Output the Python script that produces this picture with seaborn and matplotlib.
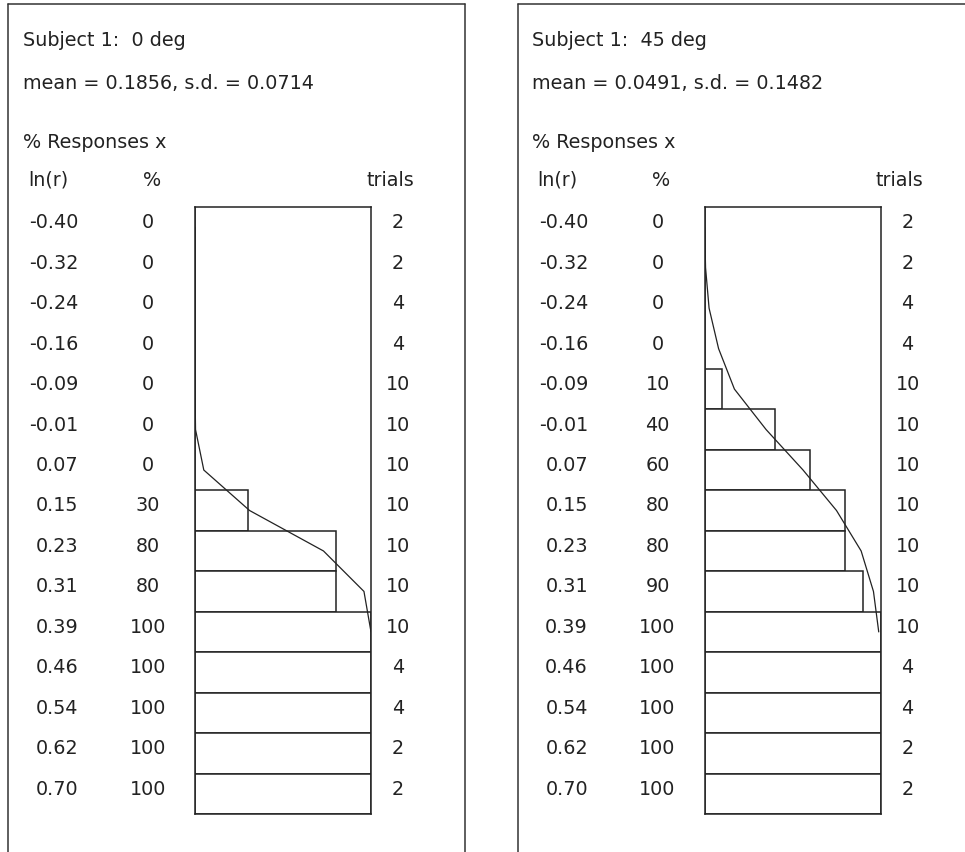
import numpy as np
import matplotlib.pyplot as plt
import seaborn as sns
from matplotlib.lines import Line2D
from matplotlib.transforms import blended_transform_factory

# rows of the response table
ln_r = ['-0.40', '-0.32', '-0.24', '-0.16', '-0.09', '-0.01', '0.07', '0.15',
        '0.23', '0.31', '0.39', '0.46', '0.54', '0.62', '0.70']
trials = [2, 2, 4, 4, 10, 10, 10, 10, 10, 10, 10, 4, 4, 2, 2]

pct_0deg = [0, 0, 0, 0, 0, 0, 0, 30, 80, 80, 100, 100, 100, 100, 100]
pct_45deg = [0, 0, 0, 0, 10, 40, 60, 80, 80, 90, 100, 100, 100, 100, 100]

# fitted curve (% at the row centres)
fit_0deg = [0, 0, 0, 0, 0, 0.3, 5, 31, 73, 96, 100]
fit_45deg = [0.1, 0.6, 2.6, 8, 17, 35, 56, 75, 89, 96, 99]

titles = ['Subject 1:  0 deg', 'Subject 1:  45 deg']
stats = ['mean = 0.1856, s.d. = 0.0714', 'mean = 0.0491, s.d. = 0.1482']

W, H = 965, 853
INK = '#222222'

sns.set_style('white')
plt.rcParams['font.family'] = ['DejaVu Sans']

fig = plt.figure(figsize=(W / 100, H / 100), dpi=100)


def fx(px):
    return px / W


def fy(py):
    return 1 - py / H


panels = [
    (0, titles[0], stats[0], pct_0deg, fit_0deg, 464.5),
    (509.5, titles[1], stats[1], pct_45deg, fit_45deg, 980),
]

fs = 13.8
for dx, title, stat, pct, fit, right in panels:
    # outer frame (runs off the bottom of the page)
    x0 = 8 + dx
    fig.add_artist(Line2D([fx(x0), fx(x0)], [fy(5), fy(860)], color='#333', lw=1.1))
    fig.add_artist(Line2D([fx(x0), fx(right)], [fy(5), fy(5)], color='#333', lw=1.1))
    fig.add_artist(Line2D([fx(right), fx(right)], [fy(5), fy(860)], color='#333', lw=1.1))

    fig.text(fx(23 + dx), fy(46), title, fontsize=fs, color=INK, va='baseline')
    fig.text(fx(23 + dx), fy(89), stat, fontsize=fs, color=INK, va='baseline')
    fig.text(fx(23 + dx), fy(148), '% Responses x', fontsize=fs, color=INK, va='baseline')
    fig.text(fx(28 + dx), fy(186), 'ln(r)', fontsize=fs, color=INK, va='baseline')
    fig.text(fx(152 + dx), fy(186), '%', fontsize=fs, color=INK, va='baseline', ha='center')
    fig.text(fx(414 + dx), fy(186), 'trials', fontsize=fs, color=INK, va='baseline', ha='right')

    ax = fig.add_axes([fx(195 + dx), fy(815), fx(176), 607 / H])
    sns.barplot(x=pct, y=ln_r, orient='h', width=1, color='white', saturation=1,
                edgecolor=INK, linewidth=1.1, errorbar=None, ax=ax)
    ax.plot(fit, np.arange(len(fit)), color=INK, lw=0.9)
    ax.set_xlim(0, 100)
    ax.set_ylim(len(ln_r) - 0.5, -0.5)
    ax.set_xticks([])
    ax.set_yticks([])
    ax.set_xlabel('')
    ax.set_ylabel('')
    for s in ax.spines.values():
        s.set_color(INK)
        s.set_linewidth(1.1)

    tr = blended_transform_factory(fig.transFigure, ax.transData)
    for i, (lab, p, n) in enumerate(zip(ln_r, pct, trials)):
        fig.text(fx(78.5 + dx), i, lab, transform=tr, fontsize=fs, color=INK,
                 ha='right', va='baseline')
        fig.text(fx(148 + dx), i, str(p), transform=tr, fontsize=fs, color=INK,
                 ha='center', va='baseline')
        fig.text(fx(398 + dx), i, str(n), transform=tr, fontsize=fs, color=INK,
                 ha='center', va='baseline')

fig.savefig('out.png', dpi=100, facecolor='white')
